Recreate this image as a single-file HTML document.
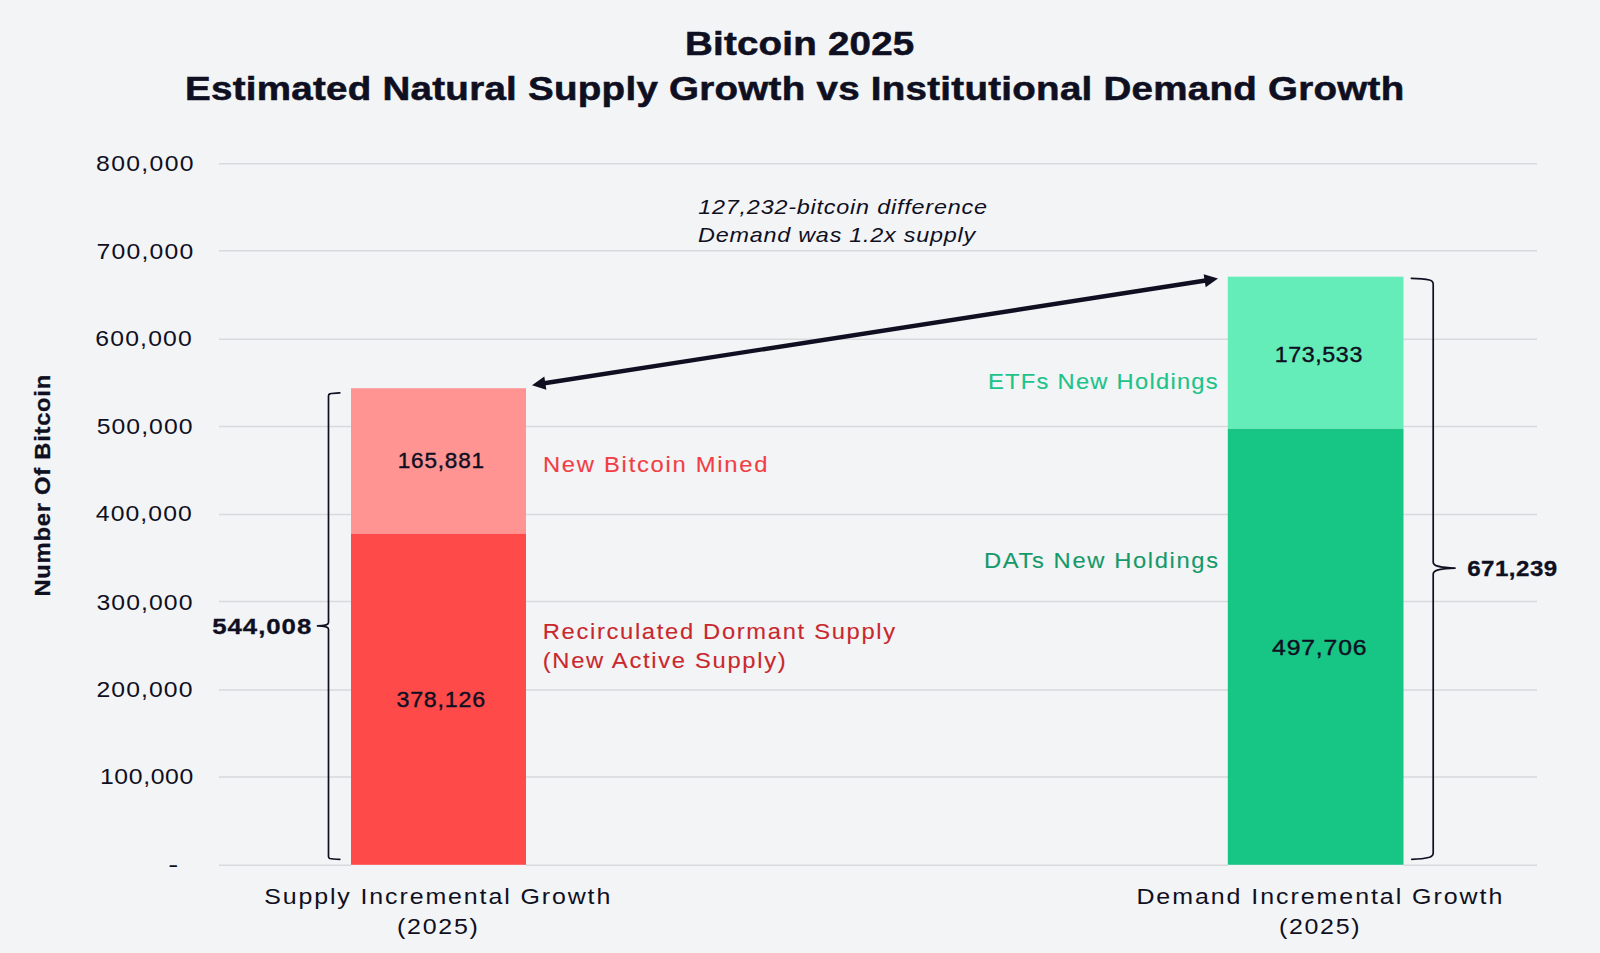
<!DOCTYPE html>
<html lang="en">
<head>
<meta charset="utf-8">
<title>Bitcoin 2025 - Estimated Natural Supply Growth vs Institutional Demand Growth</title>
<style>
  html, body { margin:0; padding:0; background:#f3f4f6; }
  body { width:1600px; height:953px; overflow:hidden; font-family:"Liberation Sans", Arial, sans-serif; }
  svg { display:block; }
  text { font-family:"Liberation Sans", Arial, sans-serif; fill:#0f0f22; }
  .title { font-weight:700; font-size:33.5px; stroke:#0f0f22; stroke-width:0.55px; }
  .ytick { font-size:22.5px; }
  .val { font-size:21.5px; stroke:#0f0f22; stroke-width:0.4px; }
  .tot { font-size:21.5px; font-weight:700; stroke:#0f0f22; stroke-width:0.3px; }
  .ser { font-size:22px; stroke-width:0.12px; }
  .xl { font-size:22.5px; }
  .note { font-size:20.5px; font-style:italic; }
  .ytitle { font-size:22px; font-weight:700; stroke:#0f0f22; stroke-width:0.3px; }
</style>
</head>
<body>
<svg width="1600" height="953" viewBox="0 0 1600 953">
<rect x="0" y="0" width="1600" height="953" fill="#f3f4f6"/>

<g id="grid" stroke="#d8d9dd" stroke-width="1.5">
<line x1="219" y1="776.90" x2="1537" y2="776.90"/>
<line x1="219" y1="690.10" x2="1537" y2="690.10"/>
<line x1="219" y1="601.60" x2="1537" y2="601.60"/>
<line x1="219" y1="514.47" x2="1537" y2="514.47"/>
<line x1="219" y1="426.40" x2="1537" y2="426.40"/>
<line x1="219" y1="339.30" x2="1537" y2="339.30"/>
<line x1="219" y1="250.80" x2="1537" y2="250.80"/>
<line x1="219" y1="163.84" x2="1537" y2="163.84"/>
<line x1="219" y1="865.30" x2="351" y2="865.30"/>
<line x1="526" y1="865.30" x2="1227.8" y2="865.30"/>
<line x1="1403.5" y1="865.30" x2="1537" y2="865.30"/>
</g>
<g id="bars">
<rect x="351" y="388.22" width="175" height="145.41" fill="#ff9493"/>
<rect x="351" y="533.63" width="175" height="331.17" fill="#fe4a49"/>
<rect x="1227.8" y="276.69" width="175.7" height="152.12" fill="#64edb8"/>
<rect x="1227.8" y="428.81" width="175.7" height="435.99" fill="#17c584"/>
</g>
<text id="tdash" class="ytick" x="168.2" y="871.6" textLength="10" lengthAdjust="spacingAndGlyphs">-</text>
<g id="labels">
<text id="title1" class="title" transform="translate(685.00 55.25) scale(1.15 1)" textLength="199.33" lengthAdjust="spacing">Bitcoin 2025</text>
<text id="title2" class="title" transform="translate(185.00 100.00) scale(1.15 1)" textLength="1060.22" lengthAdjust="spacing">Estimated Natural Supply Growth vs Institutional Demand Growth</text>
<text id="t800" class="ytick" transform="translate(96.05 170.50) scale(1.1 1)" textLength="88.60" lengthAdjust="spacing">800,000</text>
<text id="t700" class="ytick" transform="translate(96.45 259.20) scale(1.1 1)" textLength="87.99" lengthAdjust="spacing">700,000</text>
<text id="t600" class="ytick" transform="translate(95.37 346.20) scale(1.1 1)" textLength="87.64" lengthAdjust="spacing">600,000</text>
<text id="t500" class="ytick" transform="translate(96.69 434.20) scale(1.1 1)" textLength="87.09" lengthAdjust="spacing">500,000</text>
<text id="t400" class="ytick" transform="translate(95.86 520.80) scale(1.1 1)" textLength="87.20" lengthAdjust="spacing">400,000</text>
<text id="t300" class="ytick" transform="translate(96.41 609.50) scale(1.1 1)" textLength="87.34" lengthAdjust="spacing">300,000</text>
<text id="t200" class="ytick" transform="translate(96.53 696.50) scale(1.1 1)" textLength="87.23" lengthAdjust="spacing">200,000</text>
<text id="t100" class="ytick" transform="translate(99.92 784.20) scale(1.1 1)" textLength="84.84" lengthAdjust="spacing">100,000</text>
<text id="v165" class="val" transform="translate(397.64 468.00) scale(1.05 1)" textLength="82.37" lengthAdjust="spacing">165,881</text>
<text id="v378" class="val" transform="translate(396.48 706.90) scale(1.08 1)" textLength="82.08" lengthAdjust="spacing">378,126</text>
<text id="v173" class="val" transform="translate(1274.65 361.50) scale(1.08 1)" textLength="81.17" lengthAdjust="spacing">173,533</text>
<text id="v497" class="val" transform="translate(1272.07 654.60) scale(1.15 1)" textLength="82.17" lengthAdjust="spacing">497,706</text>
<text id="tot544" class="tot" transform="translate(212.16 634.00) scale(1.2 1)" textLength="82.62" lengthAdjust="spacing">544,008</text>
<text id="tot671" class="tot" transform="translate(1467.15 576.00) scale(1.12 1)" textLength="80.42" lengthAdjust="spacing">671,239</text>
<text id="NBM" class="ser" transform="translate(542.98 471.50) scale(1.08 1)" textLength="207.88" lengthAdjust="spacing" style="fill:#f03e44;stroke:#f03e44">New Bitcoin Mined</text>
<text id="RDS" class="ser" transform="translate(542.69 638.70) scale(1.08 1)" textLength="326.33" lengthAdjust="spacing" style="fill:#c9282e;stroke:#c9282e">Recirculated Dormant Supply</text>
<text id="NAS" class="ser" transform="translate(542.72 668.00) scale(1.08 1)" textLength="224.96" lengthAdjust="spacing" style="fill:#c9282e;stroke:#c9282e">(New Active Supply)</text>
<text id="ETF" class="ser" transform="translate(988.01 389.00) scale(1.08 1)" textLength="212.67" lengthAdjust="spacing" style="fill:#1cc389;stroke:#1cc389">ETFs New Holdings</text>
<text id="DAT" class="ser" transform="translate(983.93 568.40) scale(1.08 1)" textLength="216.81" lengthAdjust="spacing" style="fill:#15996b;stroke:#15996b">DATs New Holdings</text>
<text id="xlS1" class="xl" transform="translate(264.14 903.75) scale(1.11 1)" textLength="311.85" lengthAdjust="spacing">Supply Incremental Growth</text>
<text id="xlS2" class="xl" transform="translate(397.11 934.25) scale(1.11 1)" textLength="72.69" lengthAdjust="spacing">(2025)</text>
<text id="xlD1" class="xl" transform="translate(1136.39 903.75) scale(1.11 1)" textLength="329.65" lengthAdjust="spacing">Demand Incremental Growth</text>
<text id="xlD2" class="xl" transform="translate(1279.11 934.25) scale(1.11 1)" textLength="72.44" lengthAdjust="spacing">(2025)</text>
<text id="note1" class="note" transform="translate(698.22 214.40) scale(1.14 1)" textLength="253.26" lengthAdjust="spacing">127,232-bitcoin difference</text>
<text id="note2" class="note" transform="translate(698.08 241.60) scale(1.14 1)" textLength="243.05" lengthAdjust="spacing">Demand was 1.2x supply</text>
<text id="ytitle" class="ytitle" transform="translate(50.3 596.54) rotate(-90) scale(1.08 1)" textLength="205.34" lengthAdjust="spacing">Number Of Bitcoin</text>
</g>
<g id="arrow">
<line x1="542.67" y1="383.54" x2="1207.33" y2="280.26" stroke="#0f0f22" stroke-width="4.4"/>
<polygon fill="#0f0f22" points="532.00,385.20 546.35,389.65 544.33,376.61"/>
<polygon fill="#0f0f22" points="1218.00,278.60 1205.67,287.19 1203.65,274.15"/>
</g>
<g id="braces" fill="none" stroke="#0f0f22" stroke-width="1.7" stroke-linecap="round" stroke-linejoin="round">
<path d="M339.8,392.9 C336,393 332,393.3 329.8,393.9 C328.9,394.2 328.5,394.8 328.5,396 L328.5,622.6 C328.5,624.9 326,625.7 317.5,625.9 C326,626.1 328.5,626.9 328.5,629.2 L328.5,856.4 C328.5,857.6 328.9,858.2 329.8,858.5 C332,859.1 336,859.3 339.8,859.4"/>
<path d="M1411.3,278.3 C1418,278.4 1425,278.9 1429.5,280 C1432.2,280.7 1433.2,281.8 1433.2,284.2 L1433.2,562.3 C1433.2,565.6 1437.5,567.5 1455,568.1 C1437.5,568.7 1433.2,570.6 1433.2,573.9 L1433.2,853 C1433.2,855.3 1432.2,856.4 1429.5,857.2 C1425,858.4 1418,859.1 1411.7,859.3"/>
</g>
</svg>
</body>
</html>
